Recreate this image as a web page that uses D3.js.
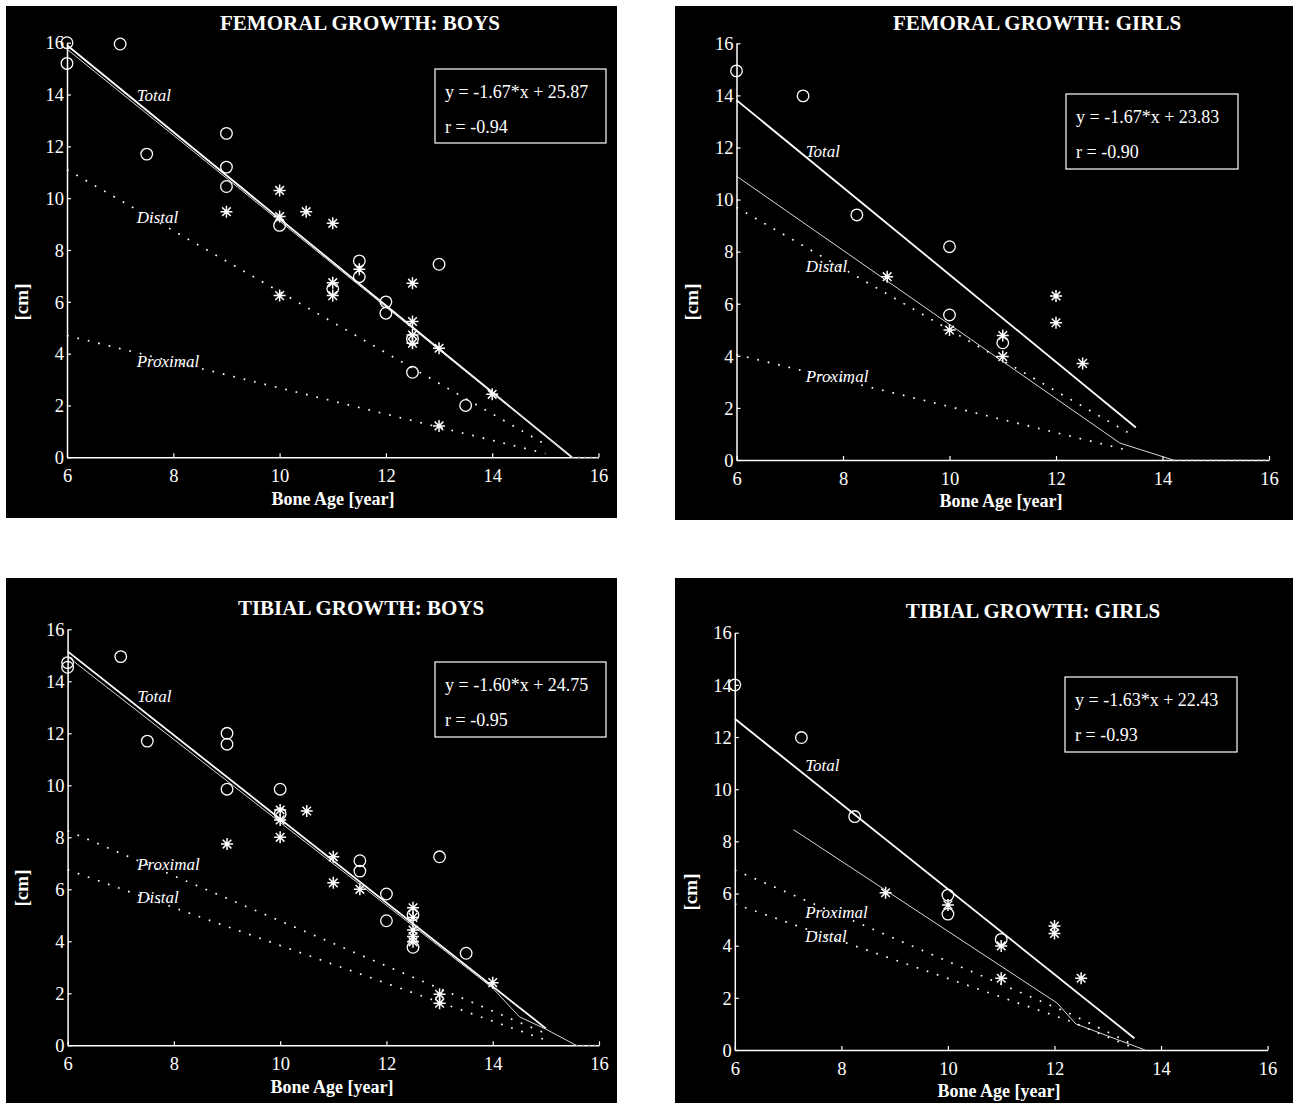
<!DOCTYPE html>
<html>
<head>
<meta charset="utf-8">
<script src="https://cdn.jsdelivr.net/npm/d3@7"></script>
<style>
  body { margin:0; background:#fff; }
  svg { display:block; }
  text { font-family:"Liberation Serif","Times New Roman",serif; fill:#fff; }
</style>
</head>
<body>
<div id="chart"></div>
<script>
// ── shared ticks ──
const XTICKS = [6, 8, 10, 12, 14, 16];
const YTICKS = [0, 2, 4, 6, 8, 10, 12, 14, 16];

const TITLES    = ["FEMORAL GROWTH: BOYS", "FEMORAL GROWTH: GIRLS", "TIBIAL GROWTH: BOYS", "TIBIAL GROWTH: GIRLS"];
const EQUATIONS = ["y = -1.67*x + 25.87", "y = -1.67*x + 23.83", "y = -1.60*x + 24.75", "y = -1.63*x + 22.43"];
const R_VALUES  = ["r = -0.94", "r = -0.90", "r = -0.95", "r = -0.93"];

// ── femoral, boys ──
const FB_TOTAL    = [[6,15.9],[15.5,0]];
const FB_SUM      = [[6,15.75],[15.5,0]];
const FB_DISTAL   = [[6,11.1],[15,0.5]];
const FB_PROXIMAL = [[6,4.7],[15,0.15]];
const FB_TAIL     = [[15.5,0],[16,0]];
const FB_CIRCLES  = [[6,16.0],[7,15.95],[6,15.2],[7.5,11.7],[9,12.5],[9,11.2],[9,10.45],[10,8.95],
                     [11,6.5],[11.5,7.58],[11.5,6.97],[12,6.0],[12,5.56],[12.5,4.56],[12.5,3.28],[13,7.45],[13.5,2.0]];
const FB_STARS    = [[9,9.48],[10,10.3],[10,9.29],[10,6.24],[10.5,9.48],[11,9.03],[11,6.74],[11,6.24],
                     [11.5,7.26],[12.5,6.72],[12.5,5.24],[12.5,4.72],[12.5,4.4],[13,4.21],[13,1.21],[14,2.43]];
const FB_LABELS   = [["Total",7.31,13.75],["Distal",7.31,9.05],["Proximal",7.31,3.49]];

// ── femoral, girls ──
const FG_TOTAL    = [[6,13.82],[13.5,1.25]];
const FG_SUM      = [[6,10.9],[13.2,0.65],[14.2,0]];
const FG_DISTAL   = [[6,9.7],[13.4,1.0]];
const FG_PROXIMAL = [[6,4.05],[13.4,0.35]];
const FG_TAIL     = [[14.2,0],[16,0]];
const FG_CIRCLES  = [[6,14.94],[7.25,13.98],[8.26,9.41],[10,8.19],[10,5.57],[11,4.5]];
const FG_STARS    = [[8.83,7.04],[10,4.99],[11,4.78],[11,3.97],[12,6.3],[12,5.27],[12.5,3.71]];
const FG_LABELS   = [["Total",7.3,11.64],["Distal",7.3,7.22],["Proximal",7.3,3.0]];

// ── tibial, boys ──
const TB_TOTAL    = [[6,15.15],[15,0.65]];
const TB_SUM      = [[6,14.95],[14,2.2],[14.5,1.1],[15,0.62],[15.57,0]];
const TB_DISTAL   = [[6,6.75],[15,0.2]];
const TB_PROXIMAL = [[6,8.25],[15,0.45]];
const TB_TAIL     = [[15.57,0],[16,0]];
const TB_CIRCLES  = [[6,14.72],[6,14.54],[7,14.95],[7.5,11.7],[9,12.0],[9,11.58],[9,9.85],[10,9.85],[10,8.9],
                     [11.5,7.1],[11.5,6.7],[12,5.82],[12,4.79],[12.5,5.02],[12.5,3.77],[13,7.25],[13.5,3.54]];
const TB_STARS    = [[9,7.74],[10,9.05],[10,8.67],[10,8.0],[10.5,9.01],[11,7.25],[11,6.25],[11.5,6.0],
                     [12.5,5.29],[12.5,4.92],[12.5,4.43],[12.5,4.18],[12.5,3.98],[13,1.96],[13,1.62],[14,2.41]];
const TB_LABELS   = [["Total",7.31,13.2],["Proximal",7.31,6.74],["Distal",7.31,5.47]];

// ── tibial, girls ──
const TG_TOTAL    = [[6,12.7],[13.5,0.45]];
const TG_SUM      = [[7.1,8.45],[12.05,1.8],[12.4,1.0],[13.7,0]];
const TG_DISTAL   = [[6,5.6],[12.3,1.1],[13.4,0.15]];
const TG_PROXIMAL = [[6,6.9],[12.35,1.34],[13.42,0.26]];
const TG_TAIL     = [];
const TG_CIRCLES  = [[6,14.0],[7.25,11.98],[8.25,8.95],[10,5.94],[10,5.21],[11,4.24]];
const TG_STARS    = [[8.83,6.03],[10,5.56],[11,3.99],[11,2.75],[12,4.75],[12,4.47],[12.5,2.75]];
const TG_LABELS   = [["Total",7.32,10.7],["Proximal",7.32,5.06],["Distal",7.32,4.14]];

// ── layout (pixels) ──
const LAYOUT = [
  { bg:[6,6,611,512],    plot:[67,42.7,598.5,457.3],    title:[360,29],   xlab:[333,504],  ylab:[21,302], box:[435,69,171,74] },
  { bg:[675,6,618,514],  plot:[736.5,43.3,1269,460],    title:[1037,29],  xlab:[1001,506], ylab:[691,302], box:[1066,94,172,75] },
  { bg:[6,578,611,525],  plot:[67.6,629.3,599,1045.3],  title:[361,614],  xlab:[332,1092], ylab:[21,888], box:[435,662,171,75] },
  { bg:[675,578,618,525],plot:[734.8,632.7,1267.6,1050],title:[1033,617], xlab:[999,1096], ylab:[690,892], box:[1065,677,172,75] },
];

const PANELS = [
  { total:FB_TOTAL, sum:FB_SUM, distal:FB_DISTAL, proximal:FB_PROXIMAL, tail:FB_TAIL, circles:FB_CIRCLES, stars:FB_STARS, labels:FB_LABELS },
  { total:FG_TOTAL, sum:FG_SUM, distal:FG_DISTAL, proximal:FG_PROXIMAL, tail:FG_TAIL, circles:FG_CIRCLES, stars:FG_STARS, labels:FG_LABELS },
  { total:TB_TOTAL, sum:TB_SUM, distal:TB_DISTAL, proximal:TB_PROXIMAL, tail:TB_TAIL, circles:TB_CIRCLES, stars:TB_STARS, labels:TB_LABELS },
  { total:TG_TOTAL, sum:TG_SUM, distal:TG_DISTAL, proximal:TG_PROXIMAL, tail:TG_TAIL, circles:TG_CIRCLES, stars:TG_STARS, labels:TG_LABELS },
];

const W = 1293, H = 1103;
const svg = d3.select("#chart").append("svg").attr("width", W).attr("height", H);
svg.append("rect").attr("width", W).attr("height", H).attr("fill", "#fff");

const STAR = "M-6,0H6M0,-6V6M-4.3,-4.3L4.3,4.3M-4.3,4.3L4.3,-4.3";
const SERIF = '"Liberation Serif","Times New Roman",serif';

PANELS.forEach((p, i) => {
  const L = LAYOUT[i];
  const g = svg.append("g");
  g.append("rect").attr("x", L.bg[0]).attr("y", L.bg[1]).attr("width", L.bg[2]).attr("height", L.bg[3]).attr("fill", "#000");

  const x = d3.scaleLinear().domain([6, 16]).range([L.plot[0], L.plot[2]]);
  const y = d3.scaleLinear().domain([0, 16]).range([L.plot[3], L.plot[1]]);
  const line = d3.line().x(d => x(d[0])).y(d => y(d[1]));

  // axes, MATLAB style inner ticks
  const xa = g.append("g").attr("transform", `translate(0,${L.plot[3]})`)
    .call(d3.axisBottom(x).tickValues(XTICKS).tickFormat(d3.format("d")).tickSizeInner(-4).tickSizeOuter(0).tickPadding(6));
  const ya = g.append("g").attr("transform", `translate(${L.plot[0]},0)`)
    .call(d3.axisLeft(y).tickValues(YTICKS).tickFormat(d3.format("d")).tickSizeInner(-4).tickSizeOuter(0).tickPadding(3));
  [xa, ya].forEach(a => {
    a.select(".domain").attr("stroke", "#fff").attr("stroke-width", 1.5);
    a.selectAll(".tick line").attr("stroke", "#fff").attr("stroke-width", 1.2);
    a.selectAll(".tick text").attr("fill", "#fff")
      .style("font-family", SERIF).style("font-size", "18.5px");
  });
  xa.selectAll(".tick text").attr("dy", "1.0em");
  ya.selectAll(".tick text").attr("dy", "0.34em");

  // fitted / summed lines
  g.append("path").datum(p.total).attr("d", line).attr("fill", "none").attr("stroke", "#fff").attr("stroke-width", 1.8);
  g.append("path").datum(p.sum).attr("d", line).attr("fill", "none").attr("stroke", "#d8d8d8").attr("stroke-width", 1);
  [p.distal, p.proximal].forEach(s => {
    g.append("path").datum(s).attr("d", line).attr("fill", "none").attr("stroke", "#fff")
      .attr("stroke-width", 1.7).attr("stroke-dasharray", "1.7,9");
  });
  if (p.tail.length) {
    g.append("path").datum(p.tail).attr("d", line).attr("fill", "none").attr("stroke", "#aaa")
      .attr("stroke-width", 1.2).attr("stroke-dasharray", "2,4");
  }

  // markers
  g.selectAll(".c").data(p.circles).join("circle")
    .attr("cx", d => x(d[0])).attr("cy", d => y(d[1])).attr("r", 5.8)
    .attr("fill", "none").attr("stroke", "#fff").attr("stroke-width", 1.3);
  g.selectAll(".s").data(p.stars).join("path")
    .attr("transform", d => `translate(${x(d[0])},${y(d[1])})`).attr("d", STAR)
    .attr("fill", "none").attr("stroke", "#fff").attr("stroke-width", 1.5);

  // italic curve labels
  p.labels.forEach(([t, lx, ly]) => {
    g.append("text").attr("x", x(lx)).attr("y", y(ly)).attr("font-style", "italic").attr("font-size", 17).text(t);
  });

  // regression box
  const [bx, by, bw, bh] = L.box;
  g.append("rect").attr("x", bx).attr("y", by).attr("width", bw).attr("height", bh)
    .attr("fill", "#000").attr("stroke", "#fff").attr("stroke-width", 1.2);
  g.append("text").attr("x", bx + 10).attr("y", by + 29).attr("font-size", 18).text(EQUATIONS[i]);
  g.append("text").attr("x", bx + 10).attr("y", by + 64).attr("font-size", 18).text(R_VALUES[i]);

  // titles and axis labels
  g.append("text").attr("x", L.title[0]).attr("y", L.title[1] + 1).attr("text-anchor", "middle")
    .attr("font-weight", "bold").attr("font-size", 21).text(TITLES[i]);
  g.append("text").attr("x", L.xlab[0]).attr("y", L.xlab[1] + 1).attr("text-anchor", "middle")
    .attr("font-weight", "bold").attr("font-size", 18).text("Bone Age [year]");
  g.append("text").attr("transform", `translate(${L.ylab[0]},${L.ylab[1]}) rotate(-90)`)
    .attr("text-anchor", "middle").attr("dy", "0.35em")
    .attr("font-weight", "bold").attr("font-size", 19).text("[cm]");
});
</script>
</body>
</html>
